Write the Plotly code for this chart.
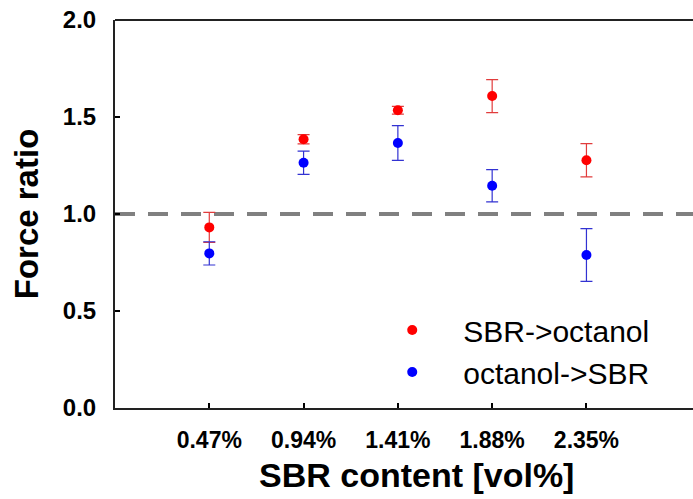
import plotly.graph_objects as go

categories = ["0.47%", "0.94%", "1.41%", "1.88%", "2.35%"]
cat_pos = [1, 2, 3, 4, 5]

sbr_to_oct = [0.931, 1.385, 1.535, 1.608, 1.277]
sbr_to_oct_err = [0.077, 0.024, 0.020, 0.085, 0.086]

oct_to_sbr = [0.797, 1.264, 1.366, 1.146, 0.789]
oct_to_sbr_err = [0.060, 0.060, 0.090, 0.083, 0.136]

y_ticks = [0.0, 0.5, 1.0, 1.5, 2.0]
y_ticklabels = ["0.0", "0.5", "1.0", "1.5", "2.0"]

FONT = "Arial, Liberation Sans, sans-serif"

fig = go.Figure()
fig.add_trace(go.Scatter(
    x=cat_pos, y=sbr_to_oct, mode="markers", name="SBR->octanol",
    marker=dict(color="#ff0000", size=10),
    error_y=dict(type="data", array=sbr_to_oct_err, color="rgb(225,60,60)", thickness=1.2, width=6),
))
fig.add_trace(go.Scatter(
    x=cat_pos, y=oct_to_sbr, mode="markers", name="octanol->SBR",
    marker=dict(color="#0000ff", size=10),
    error_y=dict(type="data", array=oct_to_sbr_err, color="rgb(50,50,210)", thickness=1.2, width=6),
))

# reference line at 1.0
fig.add_shape(type="line", xref="paper", yref="y", x0=0, x1=1, y0=1.0, y1=1.0,
              line=dict(color="#808080", width=4, dash="20px,13px"), layer="below")
# top border
fig.add_shape(type="line", xref="paper", yref="paper", x0=0, x1=1, y0=1, y1=1,
              line=dict(color="#222222", width=2))

fig.add_annotation(text="SBR content [vol%]", xref="paper", yref="paper",
                   x=0.521, y=-0.172, yanchor="middle", showarrow=False,
                   font=dict(family=FONT, size=34, color="black", weight="bold"))

fig.update_layout(
    width=693, height=499,
    margin=dict(l=115, r=0, t=20, b=91),
    paper_bgcolor="white", plot_bgcolor="white",
    showlegend=True,
    legend=dict(x=0.426, y=0.147, xanchor="left", yanchor="middle",
                bgcolor="rgba(0,0,0,0)", itemwidth=92, tracegroupgap=0,
                font=dict(family=FONT, size=30, color="black")),
    xaxis=dict(range=[0, 6.13], tickvals=cat_pos, ticktext=categories,
               ticks="inside", ticklen=5, tickwidth=1.5, tickcolor="black",
               showline=True, linecolor="#222222", linewidth=2,
               showgrid=False, zeroline=False, ticklabelstandoff=10,
               tickfont=dict(family=FONT, size=23, color="black", weight="bold")),
    yaxis=dict(range=[0, 2], tickvals=y_ticks, ticktext=y_ticklabels,
               ticks="inside", ticklen=5, tickwidth=1.5, tickcolor="black",
               showline=True, linecolor="#222222", linewidth=2,
               showgrid=False, zeroline=False, ticklabelstandoff=12,
               tickfont=dict(family=FONT, size=24, color="black", weight="bold"),
               title=dict(text="Force ratio", standoff=14,
                          font=dict(family=FONT, size=33, color="black", weight="bold"))),
)

fig.write_html("out.html")
